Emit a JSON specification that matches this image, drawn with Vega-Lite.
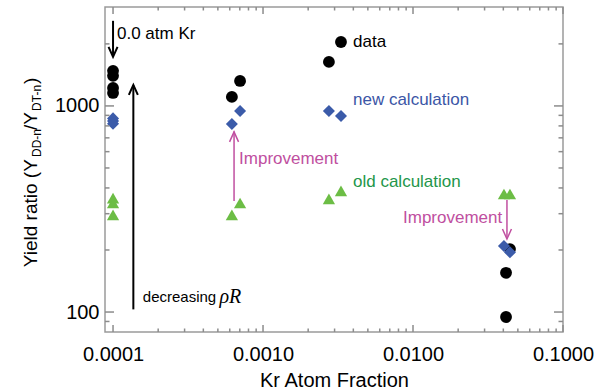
{
  "$schema": "https://vega.github.io/schema/vega-lite/v6.json",
  "width": 458,
  "height": 325,
  "autosize": {"type": "none"},
  "padding": {"left": 105, "top": 7, "right": 44, "bottom": 58},
  "background": "white",
  "config": {
    "view": {"stroke": "#9a9a9a", "strokeWidth": 1.5},
    "font": "Liberation Sans",
    "axis": {
      "grid": false,
      "domain": false,
      "labelFont": "Liberation Sans",
      "titleFont": "Liberation Sans",
      "labelColor": "#000000",
      "titleColor": "#000000",
      "labelFontSize": 20,
      "titleFontSize": 20,
      "titleFontWeight": "normal",
      "labelFlush": false
    }
  },
  "datasets": {
    "xmajor": [{"v": 0.0001}, {"v": 0.001}, {"v": 0.01}, {"v": 0.1}],
    "xminor": [{"v": 0.0002}, {"v": 0.0003}, {"v": 0.0004}, {"v": 0.0005}, {"v": 0.0006}, {"v": 0.0007}, {"v": 0.0008}, {"v": 0.0009}, {"v": 0.002}, {"v": 0.003}, {"v": 0.004}, {"v": 0.005}, {"v": 0.006}, {"v": 0.007}, {"v": 0.008}, {"v": 0.009}, {"v": 0.02}, {"v": 0.03}, {"v": 0.04}, {"v": 0.05}, {"v": 0.06}, {"v": 0.07}, {"v": 0.08}, {"v": 0.09}],
    "ymajor": [{"v": 100}, {"v": 1000}],
    "yminor": [{"v": 90}, {"v": 200}, {"v": 300}, {"v": 400}, {"v": 500}, {"v": 600}, {"v": 700}, {"v": 800}, {"v": 900}, {"v": 2000}]
  },
  "resolve": {"axis": {"x": "independent", "y": "independent"}, "scale": {"shape": "independent"}},
  "layer": [
    {
      "data": {"values": [
        {"kr": 0.0001, "ratio": 1480, "series": "data"},
        {"kr": 0.0001, "ratio": 1400, "series": "data"},
        {"kr": 0.0001, "ratio": 1223, "series": "data"},
        {"kr": 0.0001, "ratio": 1156, "series": "data"},
        {"kr": 0.00062, "ratio": 1106, "series": "data"},
        {"kr": 0.000703, "ratio": 1322, "series": "data"},
        {"kr": 0.00275, "ratio": 1635, "series": "data"},
        {"kr": 0.00331, "ratio": 2042, "series": "data"},
        {"kr": 0.0417, "ratio": 155, "series": "data"},
        {"kr": 0.0417, "ratio": 94.6, "series": "data"},
        {"kr": 0.0443, "ratio": 202, "series": "data"},
        {"kr": 0.0001, "ratio": 870, "series": "new calculation"},
        {"kr": 0.0001, "ratio": 845, "series": "new calculation"},
        {"kr": 0.0001, "ratio": 820, "series": "new calculation"},
        {"kr": 0.00062, "ratio": 818, "series": "new calculation"},
        {"kr": 0.000703, "ratio": 946, "series": "new calculation"},
        {"kr": 0.00275, "ratio": 946, "series": "new calculation"},
        {"kr": 0.00331, "ratio": 894, "series": "new calculation"},
        {"kr": 0.0404, "ratio": 209, "series": "new calculation"},
        {"kr": 0.0443, "ratio": 195, "series": "new calculation"},
        {"kr": 0.0001, "ratio": 357, "series": "old calculation"},
        {"kr": 0.0001, "ratio": 338, "series": "old calculation"},
        {"kr": 0.0001, "ratio": 296, "series": "old calculation"},
        {"kr": 0.00062, "ratio": 296, "series": "old calculation"},
        {"kr": 0.000703, "ratio": 338, "series": "old calculation"},
        {"kr": 0.00275, "ratio": 354, "series": "old calculation"},
        {"kr": 0.00331, "ratio": 387, "series": "old calculation"},
        {"kr": 0.0404, "ratio": 374, "series": "old calculation"},
        {"kr": 0.0443, "ratio": 374, "series": "old calculation"}
      ]},
      "mark": {"type": "point", "filled": true, "opacity": 1, "strokeWidth": 0},
      "encoding": {
        "x": {"field": "kr", "type": "quantitative",
          "scale": {"type": "log", "domain": [0.0000884, 0.1], "nice": false},
          "axis": {"orient": "bottom", "values": [0.0001, 0.001, 0.01, 0.1], "format": ".4f", "ticks": false, "labelPadding": 12, "title": "Kr Atom Fraction", "titlePadding": 6}},
        "y": {"field": "ratio", "type": "quantitative",
          "scale": {"type": "log", "domain": [80, 3020], "nice": false},
          "axis": {"orient": "left", "values": [100, 1000], "format": "d", "ticks": false, "labelPadding": 6, "title": null}},
        "shape": {"field": "series", "type": "nominal", "scale": {"domain": ["data", "new calculation", "old calculation"], "range": ["circle", "diamond", "triangle-up"]}, "legend": null},
        "fill": {"field": "series", "type": "nominal", "scale": {"domain": ["data", "new calculation", "old calculation"], "range": ["#000000", "#3b5ba9", "#6cbd45"]}, "legend": null},
        "size": {"field": "series", "type": "nominal", "scale": {"domain": ["data", "new calculation", "old calculation"], "range": [140, 150, 115]}, "legend": null}
      }
    },
    {
      "data": {"name": "xmajor"},
      "mark": {"type": "rule", "color": "#8c8c8c", "strokeWidth": 1.5, "y2Offset": -7},
      "encoding": {
        "x": {"field": "v", "type": "quantitative", "scale": {"type": "log", "domain": [0.0000884, 0.1], "nice": false}, "axis": null},
        "y": {"datum": 80, "type": "quantitative", "scale": {"type": "log", "domain": [80, 3020], "nice": false}, "axis": null},
        "y2": {"datum": 80}
      }
    },
    {
      "data": {"name": "xmajor"},
      "mark": {"type": "rule", "color": "#8c8c8c", "strokeWidth": 1.5, "y2Offset": 7},
      "encoding": {
        "x": {"field": "v", "type": "quantitative", "scale": {"type": "log", "domain": [0.0000884, 0.1], "nice": false}, "axis": null},
        "y": {"datum": 3020, "type": "quantitative", "scale": {"type": "log", "domain": [80, 3020], "nice": false}, "axis": null},
        "y2": {"datum": 3020}
      }
    },
    {
      "data": {"name": "xminor"},
      "mark": {"type": "rule", "color": "#8c8c8c", "strokeWidth": 1.5, "y2Offset": -3.5},
      "encoding": {
        "x": {"field": "v", "type": "quantitative", "scale": {"type": "log", "domain": [0.0000884, 0.1], "nice": false}, "axis": null},
        "y": {"datum": 80, "type": "quantitative", "scale": {"type": "log", "domain": [80, 3020], "nice": false}, "axis": null},
        "y2": {"datum": 80}
      }
    },
    {
      "data": {"name": "xminor"},
      "mark": {"type": "rule", "color": "#8c8c8c", "strokeWidth": 1.5, "y2Offset": 3.5},
      "encoding": {
        "x": {"field": "v", "type": "quantitative", "scale": {"type": "log", "domain": [0.0000884, 0.1], "nice": false}, "axis": null},
        "y": {"datum": 3020, "type": "quantitative", "scale": {"type": "log", "domain": [80, 3020], "nice": false}, "axis": null},
        "y2": {"datum": 3020}
      }
    },
    {
      "data": {"name": "ymajor"},
      "mark": {"type": "rule", "color": "#8c8c8c", "strokeWidth": 1.5, "x2Offset": 9},
      "encoding": {
        "y": {"field": "v", "type": "quantitative", "scale": {"type": "log", "domain": [80, 3020], "nice": false}, "axis": null},
        "x": {"datum": 0.0000884, "type": "quantitative", "scale": {"type": "log", "domain": [0.0000884, 0.1], "nice": false}, "axis": null},
        "x2": {"datum": 0.0000884}
      }
    },
    {
      "data": {"name": "ymajor"},
      "mark": {"type": "rule", "color": "#8c8c8c", "strokeWidth": 1.5, "x2Offset": -9},
      "encoding": {
        "y": {"field": "v", "type": "quantitative", "scale": {"type": "log", "domain": [80, 3020], "nice": false}, "axis": null},
        "x": {"datum": 0.1, "type": "quantitative", "scale": {"type": "log", "domain": [0.0000884, 0.1], "nice": false}, "axis": null},
        "x2": {"datum": 0.1}
      }
    },
    {
      "data": {"name": "yminor"},
      "mark": {"type": "rule", "color": "#8c8c8c", "strokeWidth": 1.5, "x2Offset": 4.5},
      "encoding": {
        "y": {"field": "v", "type": "quantitative", "scale": {"type": "log", "domain": [80, 3020], "nice": false}, "axis": null},
        "x": {"datum": 0.0000884, "type": "quantitative", "scale": {"type": "log", "domain": [0.0000884, 0.1], "nice": false}, "axis": null},
        "x2": {"datum": 0.0000884}
      }
    },
    {
      "data": {"name": "yminor"},
      "mark": {"type": "rule", "color": "#8c8c8c", "strokeWidth": 1.5, "x2Offset": -4.5},
      "encoding": {
        "y": {"field": "v", "type": "quantitative", "scale": {"type": "log", "domain": [80, 3020], "nice": false}, "axis": null},
        "x": {"datum": 0.1, "type": "quantitative", "scale": {"type": "log", "domain": [0.0000884, 0.1], "nice": false}, "axis": null},
        "x2": {"datum": 0.1}
      }
    },
    {
      "data": {"values": [
        {"kr": 0.0001, "from": 2588, "to": 1735},
        {"kr": 0.0001366, "from": 103, "to": 1258}
      ]},
      "mark": {"type": "rule", "color": "#000000", "strokeWidth": 2},
      "encoding": {
        "x": {"field": "kr", "type": "quantitative", "scale": {"type": "log", "domain": [0.0000884, 0.1], "nice": false}, "axis": null},
        "y": {"field": "from", "type": "quantitative", "scale": {"type": "log", "domain": [80, 3020], "nice": false}, "axis": null},
        "y2": {"field": "to"}
      }
    },
    {
      "data": {"values": [
        {"kr": 0.000641, "from": 346, "to": 752},
        {"kr": 0.0423, "from": 350, "to": 228}
      ]},
      "mark": {"type": "rule", "color": "#c04fa0", "strokeWidth": 1.5},
      "encoding": {
        "x": {"field": "kr", "type": "quantitative", "scale": {"type": "log", "domain": [0.0000884, 0.1], "nice": false}, "axis": null},
        "y": {"field": "from", "type": "quantitative", "scale": {"type": "log", "domain": [80, 3020], "nice": false}, "axis": null},
        "y2": {"field": "to"}
      }
    },
    {
      "data": {"values": [
        {"kr": 0.0001, "y": 1730, "dir": "down"},
        {"kr": 0.0001366, "y": 1264, "dir": "up"}
      ]},
      "mark": {"type": "point", "filled": false, "stroke": "#000000", "strokeWidth": 2, "size": 100, "opacity": 1},
      "encoding": {
        "x": {"field": "kr", "type": "quantitative", "scale": {"type": "log", "domain": [0.0000884, 0.1], "nice": false}, "axis": null},
        "y": {"field": "y", "type": "quantitative", "scale": {"type": "log", "domain": [80, 3020], "nice": false}, "axis": null},
        "shape": {"field": "dir", "type": "nominal", "scale": {"domain": ["up", "down"], "range": ["M-0.9,2L0,0L0.9,2", "M-0.9,-2L0,0L0.9,-2"]}, "legend": null}
      }
    },
    {
      "data": {"values": [
        {"kr": 0.000641, "y": 748, "dir": "up"},
        {"kr": 0.0423, "y": 226, "dir": "down"}
      ]},
      "mark": {"type": "point", "filled": false, "stroke": "#c04fa0", "strokeWidth": 1.5, "size": 100, "opacity": 1},
      "encoding": {
        "x": {"field": "kr", "type": "quantitative", "scale": {"type": "log", "domain": [0.0000884, 0.1], "nice": false}, "axis": null},
        "y": {"field": "y", "type": "quantitative", "scale": {"type": "log", "domain": [80, 3020], "nice": false}, "axis": null},
        "shape": {"field": "dir", "type": "nominal", "scale": {"domain": ["up", "down"], "range": ["M-0.9,2L0,0L0.9,2", "M-0.9,-2L0,0L0.9,-2"]}, "legend": null}
      }
    },
    {
      "data": {"values": [
        {"kr": 0.0001063, "y": 2240, "label": "0.0 atm Kr"},
        {"kr": 0.00398, "y": 2048, "label": "data"}
      ]},
      "mark": {"type": "text", "align": "left", "baseline": "middle", "fontSize": 17, "font": "Liberation Sans", "color": "#000000"},
      "encoding": {
        "x": {"field": "kr", "type": "quantitative", "scale": {"type": "log", "domain": [0.0000884, 0.1], "nice": false}, "axis": null},
        "y": {"field": "y", "type": "quantitative", "scale": {"type": "log", "domain": [80, 3020], "nice": false}, "axis": null},
        "text": {"field": "label"}
      }
    },
    {
      "data": {"values": [
        {"kr": 0.000158, "y": 118, "label": "decreasing"}
      ]},
      "mark": {"type": "text", "align": "left", "baseline": "middle", "fontSize": 15, "font": "Liberation Sans", "color": "#000000"},
      "encoding": {
        "x": {"field": "kr", "type": "quantitative", "scale": {"type": "log", "domain": [0.0000884, 0.1], "nice": false}, "axis": null},
        "y": {"field": "y", "type": "quantitative", "scale": {"type": "log", "domain": [80, 3020], "nice": false}, "axis": null},
        "text": {"field": "label"}
      }
    },
    {
      "data": {"values": [
        {"kr": 0.000512, "y": 118, "label": "ρR"}
      ]},
      "mark": {"type": "text", "align": "left", "baseline": "middle", "fontSize": 20, "font": "Liberation Serif", "fontStyle": "italic", "color": "#000000"},
      "encoding": {
        "x": {"field": "kr", "type": "quantitative", "scale": {"type": "log", "domain": [0.0000884, 0.1], "nice": false}, "axis": null},
        "y": {"field": "y", "type": "quantitative", "scale": {"type": "log", "domain": [80, 3020], "nice": false}, "axis": null},
        "text": {"field": "label"}
      }
    },
    {
      "data": {"values": [
        {"kr": 0.00398, "y": 1069, "label": "new calculation"}
      ]},
      "mark": {"type": "text", "align": "left", "baseline": "middle", "fontSize": 17, "font": "Liberation Sans", "color": "#3b56a6"},
      "encoding": {
        "x": {"field": "kr", "type": "quantitative", "scale": {"type": "log", "domain": [0.0000884, 0.1], "nice": false}, "axis": null},
        "y": {"field": "y", "type": "quantitative", "scale": {"type": "log", "domain": [80, 3020], "nice": false}, "axis": null},
        "text": {"field": "label"}
      }
    },
    {
      "data": {"values": [
        {"kr": 0.00398, "y": 428, "label": "old calculation"}
      ]},
      "mark": {"type": "text", "align": "left", "baseline": "middle", "fontSize": 17, "font": "Liberation Sans", "color": "#23964a"},
      "encoding": {
        "x": {"field": "kr", "type": "quantitative", "scale": {"type": "log", "domain": [0.0000884, 0.1], "nice": false}, "axis": null},
        "y": {"field": "y", "type": "quantitative", "scale": {"type": "log", "domain": [80, 3020], "nice": false}, "axis": null},
        "text": {"field": "label"}
      }
    },
    {
      "data": {"values": [
        {"kr": 0.000692, "y": 553, "label": "Improvement"},
        {"kr": 0.00858, "y": 286, "label": "Improvement"}
      ]},
      "mark": {"type": "text", "align": "left", "baseline": "middle", "fontSize": 17, "font": "Liberation Sans", "color": "#c04fa0"},
      "encoding": {
        "x": {"field": "kr", "type": "quantitative", "scale": {"type": "log", "domain": [0.0000884, 0.1], "nice": false}, "axis": null},
        "y": {"field": "y", "type": "quantitative", "scale": {"type": "log", "domain": [80, 3020], "nice": false}, "axis": null},
        "text": {"field": "label"}
      }
    },
    {
      "data": {"values": [
        {"kr": 0.00003113, "y": 165, "label": "Yield ratio (Y"},
        {"kr": 0.00003113, "y": 765, "label": "/Y"},
        {"kr": 0.00003113, "y": 1279, "label": ")"}
      ]},
      "mark": {"type": "text", "align": "left", "baseline": "alphabetic", "angle": 270, "fontSize": 19, "font": "Liberation Sans", "color": "#000000"},
      "encoding": {
        "x": {"field": "kr", "type": "quantitative", "scale": {"type": "log", "domain": [0.0000884, 0.1], "nice": false}, "axis": null},
        "y": {"field": "y", "type": "quantitative", "scale": {"type": "log", "domain": [80, 3020], "nice": false}, "axis": null},
        "text": {"field": "label"}
      }
    },
    {
      "data": {"values": [
        {"kr": 0.0000331, "y": 565, "label": "DD-n"},
        {"kr": 0.0000331, "y": 946, "label": "DT-n"}
      ]},
      "mark": {"type": "text", "align": "left", "baseline": "alphabetic", "angle": 270, "fontSize": 12, "font": "Liberation Sans", "color": "#000000"},
      "encoding": {
        "x": {"field": "kr", "type": "quantitative", "scale": {"type": "log", "domain": [0.0000884, 0.1], "nice": false}, "axis": null},
        "y": {"field": "y", "type": "quantitative", "scale": {"type": "log", "domain": [80, 3020], "nice": false}, "axis": null},
        "text": {"field": "label"}
      }
    }
  ]
}
